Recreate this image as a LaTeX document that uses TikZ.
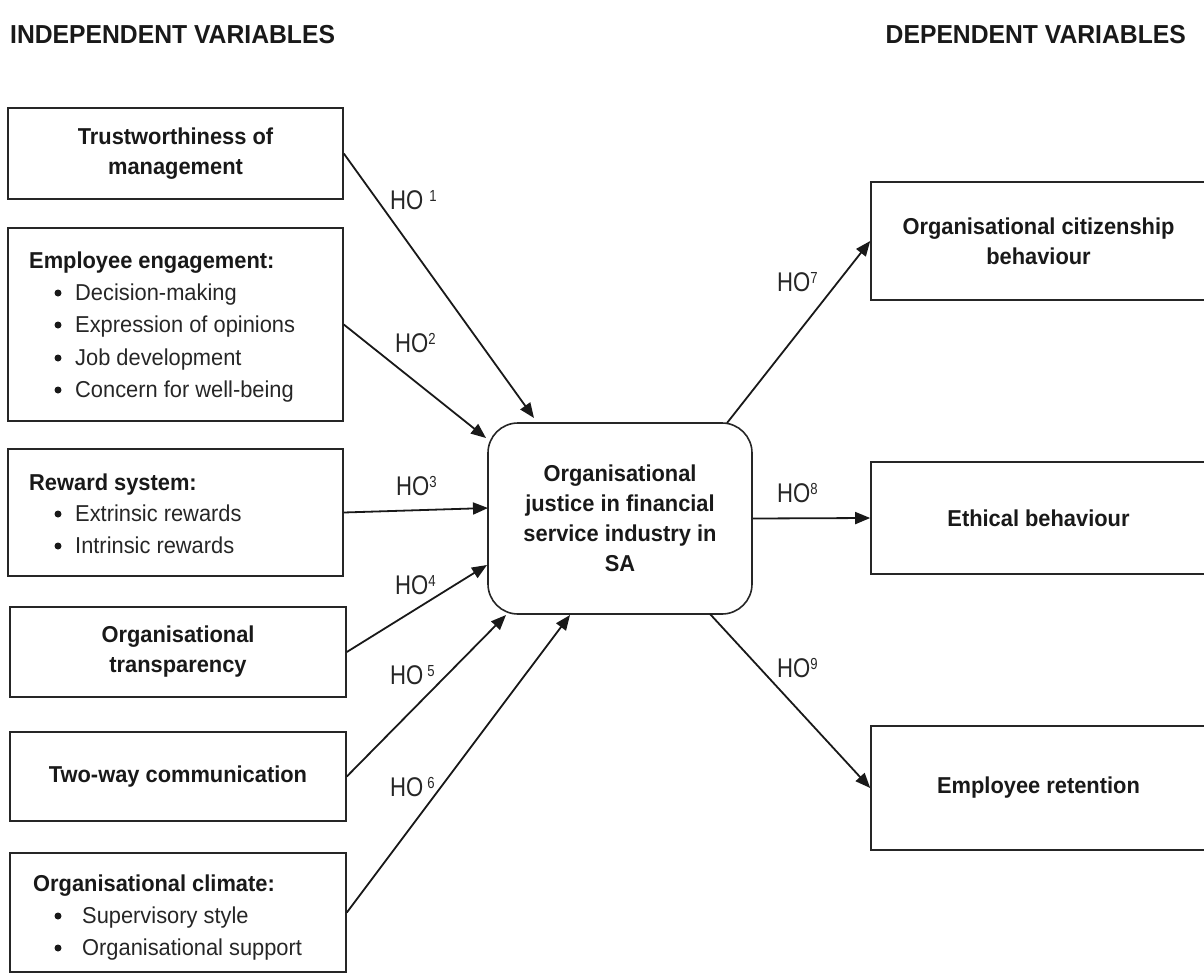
\documentclass[tikz,border=0pt]{standalone}
\usepackage{fontspec}
\setmainfont[FakeStretch=0.95]{Liberation Sans}
\newfontfamily\hofont[FakeStretch=0.82]{Liberation Sans}
\usetikzlibrary{arrows.meta}

% font sizes (1 unit = 1pt)
\newcommand\boxfont{\fontsize{23}{30}\selectfont}
\newcommand\headfont{\fontsize{26}{30}\selectfont\bfseries}
% hypothesis label: HO with a raised number, #1 = gap before the number
\newcommand\holabel[2]{{\hofont\fontsize{27}{30}\selectfont HO}\hspace{#1}\raisebox{8pt}{\hofont\fontsize{16}{16}\selectfont #2}}

\tikzset{
  varbox/.style={draw=black!85, line width=1.6pt, inner sep=0pt, align=center,
    text=black!90, font=\boxfont\bfseries},
  corebox/.style={varbox, rounded corners=30pt},
  title/.style={anchor=base west, inner sep=0pt, text=black!90, font=\boxfont\bfseries},
  item/.style={anchor=base west, inner sep=0pt, text=black!85, font=\boxfont},
  dot/.style={circle, fill=black!90, inner sep=0pt, minimum size=7pt},
  hlabel/.style={anchor=base west, inner sep=0pt, text=black!85},
  head/.style={inner sep=0pt, text=black!90, font=\headfont},
  conn/.style={draw=black!90, line width=1.8pt, -{Triangle[length=15pt,width=12pt]}}
}

\begin{document}
\begin{tikzpicture}[x=1pt,y=-1pt]
\useasboundingbox (0,0) rectangle (1204,974);
\clip (0,0) rectangle (1204,974);

% column headings
\node[head, anchor=base west] (hindep) at (10,44) {INDEPENDENT VARIABLES};
\node[head, anchor=base east] (hdep) at (1186,44) {DEPENDENT VARIABLES};

% independent variables
\node[varbox, minimum width=335pt, minimum height=91pt] (b1) at (175.5,153.5)
  {Trustworthiness of\\management};
\node[varbox, minimum width=335pt, minimum height=193pt] (b2) at (175.5,324.5) {};
\node[varbox, minimum width=335pt, minimum height=127pt] (b3) at (175.5,512.5) {};
\node[varbox, minimum width=336pt, minimum height=90pt] (b4) at (178,652)
  {Organisational\\transparency};
\node[varbox, minimum width=336pt, minimum height=89pt] (b5) at (178,776.5)
  {Two-way communication};
\node[varbox, minimum width=336pt, minimum height=119pt] (b6) at (178,912.5) {};

% employee engagement list
\node[title] (t2) at (29,268) {Employee engagement:};
\node[dot] (d21) at (58,293) {};
\node[item] (i21) at (75,300) {Decision-making};
\node[dot] (d22) at (58,325) {};
\node[item] (i22) at (75,332) {Expression of opinions};
\node[dot] (d23) at (58,358) {};
\node[item] (i23) at (75,365) {Job development};
\node[dot] (d24) at (58,390) {};
\node[item] (i24) at (75,397) {Concern for well-being};

% reward system list
\node[title] (t3) at (29,490) {Reward system:};
\node[dot] (d31) at (58,514) {};
\node[item] (i31) at (75,521) {Extrinsic rewards};
\node[dot] (d32) at (58,546) {};
\node[item] (i32) at (75,553) {Intrinsic rewards};

% organisational climate list
\node[title] (t6) at (33,891) {Organisational climate:};
\node[dot] (d61) at (58,916) {};
\node[item] (i61) at (82,923) {Supervisory style};
\node[dot] (d62) at (58,948) {};
\node[item] (i62) at (82,955) {Organisational support};

% mediating construct
\node[corebox, minimum width=264pt, minimum height=191pt] (c) at (620,518.5)
  {Organisational\\justice in financial\\service industry in\\SA};

% dependent variables
\node[varbox, minimum width=335pt, minimum height=118pt] (r1) at (1038.5,241)
  {Organisational citizenship\\behaviour};
\node[varbox, minimum width=335pt, minimum height=112pt] (r2) at (1038.5,518)
  {Ethical behaviour};
\node[varbox, minimum width=335pt, minimum height=124pt] (r3) at (1038.5,788)
  {Employee retention};

% arrow ends on the central box
\coordinate (e1) at (534,418);
\coordinate (e2) at (486,438);
\coordinate (e3) at (488,508);
\coordinate (e4) at (487,565);
\coordinate (e5) at (506,615);
\coordinate (e6) at (570,615);
\coordinate (s7) at (727,423);
\coordinate (s9) at (710,614);

% hypotheses
\draw[conn] (b1.east) -- (e1);
\draw[conn] (b2.east) -- (e2);
\draw[conn] (b3.east) -- (e3);
\draw[conn] (b4.east) -- (e4);
\draw[conn] (b5.east) -- (e5);
\draw[conn] (b6.east) -- (e6);
\draw[conn] (s7) -- (r1.west);
\draw[conn] (c.east) -- (r2.west);
\draw[conn] (s9) -- (r3.west);

\node[hlabel] (h1) at (390,209) {\holabel{6pt}{1}};
\node[hlabel] (h2) at (395,352) {\holabel{0pt}{2}};
\node[hlabel] (h3) at (396,495) {\holabel{0pt}{3}};
\node[hlabel] (h4) at (395,594) {\holabel{0pt}{4}};
\node[hlabel] (h5) at (390,684) {\holabel{4pt}{5}};
\node[hlabel] (h6) at (390,796) {\holabel{4pt}{6}};
\node[hlabel] (h7) at (777,291) {\holabel{0pt}{7}};
\node[hlabel] (h8) at (777,502) {\holabel{0pt}{8}};
\node[hlabel] (h9) at (777,677) {\holabel{0pt}{9}};
\end{tikzpicture}
\end{document}
